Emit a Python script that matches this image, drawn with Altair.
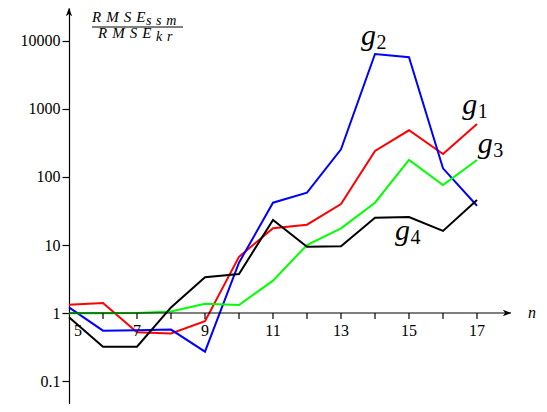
import altair as alt
import pandas as pd

# ---- data ----
n_values = list(range(5, 18))
g1 = [1.32, 1.40, 0.52, 0.50, 0.755, 6.7, 17.6, 19.9, 40.0, 241, 486, 218, 602]
g2 = [1.21, 0.55, 0.56, 0.57, 0.27, 5.5, 41.9, 58.8, 255, 6440, 5760, 134, 37.8]
g3 = [0.99, 0.99, 1.0, 1.05, 1.37, 1.31, 2.99, 10.0, 17.6, 41.9, 178, 76.3, 178]
g4 = [0.865, 0.32, 0.32, 1.21, 3.35, 3.75, 23.3, 9.44, 9.6, 25.2, 25.8, 16.1, 45.9]

series_names = ["g1", "g2", "g3", "g4"]
series_colors = ["#ff0000", "#0000ff", "#00ff00", "#000000"]

y_tick_values = [0.1, 1, 10, 100, 1000, 10000]
x_tick_values = list(range(6, 18))
x_label_values = [7, 9, 11, 13, 15, 17]

label_main = ["g", "g", "g", "g"]
label_sub = ["1", "2", "3", "4"]
label_x = [16.79, 13.81, 17.24, 14.81]
label_y = [844, 8730, 225, 11.9]

rows = []
for name, vals in zip(series_names, [g1, g2, g3, g4]):
    for n, v in zip(n_values, vals):
        rows.append({"n": n, "ratio": v, "series": name})
df = pd.DataFrame(rows)

X_MIN, X_MAX = 5, 18
Y_MIN, Y_MAX = 10 ** -1.338, 10 ** 4.485

xscale = alt.Scale(domain=[X_MIN, X_MAX], nice=False, zero=False)
yscale = alt.Scale(type="log", domain=[Y_MIN, Y_MAX], nice=False)

SERIF = "Liberation Serif"

yaxis = alt.Axis(
    values=y_tick_values,
    format="~g",
    title=None,
    grid=False,
    domainColor="black",
    domainWidth=1.2,
    tickColor="black",
    tickWidth=1.2,
    tickSize=7,
    labelFont=SERIF,
    labelFontSize=16,
    labelColor="black",
    labelPadding=2,
)


def X(field):
    return alt.X(field, scale=xscale, axis=None)


def Y(field):
    return alt.Y(field, scale=yscale, axis=yaxis)


lines = alt.Chart(df).mark_line(strokeWidth=2).encode(
    x=X("n:Q"),
    y=Y("ratio:Q"),
    color=alt.Color("series:N", scale=alt.Scale(domain=series_names, range=series_colors), legend=None),
    detail="series:N",
)

# x axis line (drawn at y = 1)
xaxis_df = pd.DataFrame({"a": [X_MIN], "b": [X_MAX], "c": [1]})
xaxis = alt.Chart(xaxis_df).mark_rule(color="black", strokeWidth=1.2).encode(
    x=X("a:Q"), x2="b:Q", y=Y("c:Q"),
)

ticks_df = pd.DataFrame({"t": x_tick_values, "c": [1] * len(x_tick_values)})
xticks = alt.Chart(ticks_df).mark_rule(color="black", strokeWidth=1.2, y2Offset=6).encode(
    x=X("t:Q"), y=Y("c:Q"), y2="c:Q",
)

xlab_df = pd.DataFrame({"t": x_label_values, "c": [1] * len(x_label_values)})
xlabels = alt.Chart(xlab_df).mark_text(
    font=SERIF, fontSize=16, color="black", dy=18, baseline="middle", align="center"
).encode(x=X("t:Q"), y=Y("c:Q"), text=alt.Text("t:Q", format="d"))

x5_df = pd.DataFrame({"t": [5], "c": [1]})
xlabel5 = alt.Chart(x5_df).mark_text(
    font=SERIF, fontSize=16, color="black", dy=18, dx=9, baseline="middle", align="center"
).encode(x=X("t:Q"), y=Y("c:Q"), text=alt.Text("t:Q", format="d"))

n_df = pd.DataFrame({"t": [18.5], "c": [1], "s": ["n"]})
n_label = alt.Chart(n_df).mark_text(
    font=SERIF, fontSize=16, fontStyle="italic", color="black", align="left", baseline="middle"
).encode(x=X("t:Q"), y=Y("c:Q"), text="s:N")

# arrow heads
right_arrow = "M1,0 L-1,-0.75 L-0.45,0 L-1,0.75 Z"
up_arrow = "M0,-1 L-0.75,1 L0,0.45 L0.75,1 Z"
xarrow_df = pd.DataFrame({"t": [X_MAX], "c": [1]})
xarrow = alt.Chart(xarrow_df).mark_point(
    shape=right_arrow, filled=True, color="black", opacity=1, size=70, xOffset=-4
).encode(x=X("t:Q"), y=Y("c:Q"))
yarrow_df = pd.DataFrame({"t": [X_MIN], "c": [Y_MAX]})
yarrow = alt.Chart(yarrow_df).mark_point(
    shape=up_arrow, filled=True, color="black", opacity=1, size=70, yOffset=4
).encode(x=X("t:Q"), y=Y("c:Q"))

# series labels g_i
lab_df = pd.DataFrame({"x": label_x, "y": label_y, "m": label_main, "s": label_sub})
main_labels = alt.Chart(lab_df).mark_text(
    font=SERIF, fontSize=30, fontStyle="italic", color="black", align="center", baseline="alphabetic"
).encode(x=X("x:Q"), y=Y("y:Q"), text="m:N")
sub_labels = alt.Chart(lab_df).mark_text(
    font=SERIF, fontSize=20, color="black", align="center", baseline="alphabetic", dx=13, dy=4
).encode(x=X("x:Q"), y=Y("y:Q"), text="s:N")

# y title: fraction RMSE_ssm / RMSE_kr
GAP = " \u200a"
SUBGAP = " \u200a"
one = pd.DataFrame({"k": [0]})
num_main = alt.Chart(one).mark_text(
    text=GAP.join("RMSE"), font=SERIF, fontSize=15, fontStyle="italic", color="black",
    align="left", baseline="alphabetic"
).encode(x=alt.value(23), y=alt.value(14))
num_sub = alt.Chart(one).mark_text(
    text=SUBGAP.join("ssm"), font=SERIF, fontSize=14, fontStyle="italic", color="black",
    align="left", baseline="alphabetic"
).encode(x=alt.value(77), y=alt.value(17))
frac_rule = alt.Chart(one).mark_rule(color="black", strokeWidth=1).encode(
    x=alt.value(23), x2=alt.value(114), y=alt.value(19)
)
den_main = alt.Chart(one).mark_text(
    text=GAP.join("RMSE"), font=SERIF, fontSize=15, fontStyle="italic", color="black",
    align="left", baseline="alphabetic"
).encode(x=alt.value(29), y=alt.value(30))
den_sub = alt.Chart(one).mark_text(
    text=SUBGAP.join("kr"), font=SERIF, fontSize=14, fontStyle="italic", color="black",
    align="left", baseline="alphabetic"
).encode(x=alt.value(87), y=alt.value(33))

chart = alt.layer(
    lines, xaxis, xticks, xlabels, xlabel5, n_label, xarrow, yarrow,
    main_labels, sub_labels,
    num_main, num_sub, frac_rule, den_main, den_sub,
).properties(
    width=442,
    height=396,
    autosize="none",
    padding={"left": 61, "top": 0, "right": 28, "bottom": 0},
    background="white",
).configure_view(stroke=None)

chart.save("out.html", embed_options={"renderer": "svg", "actions": False})
